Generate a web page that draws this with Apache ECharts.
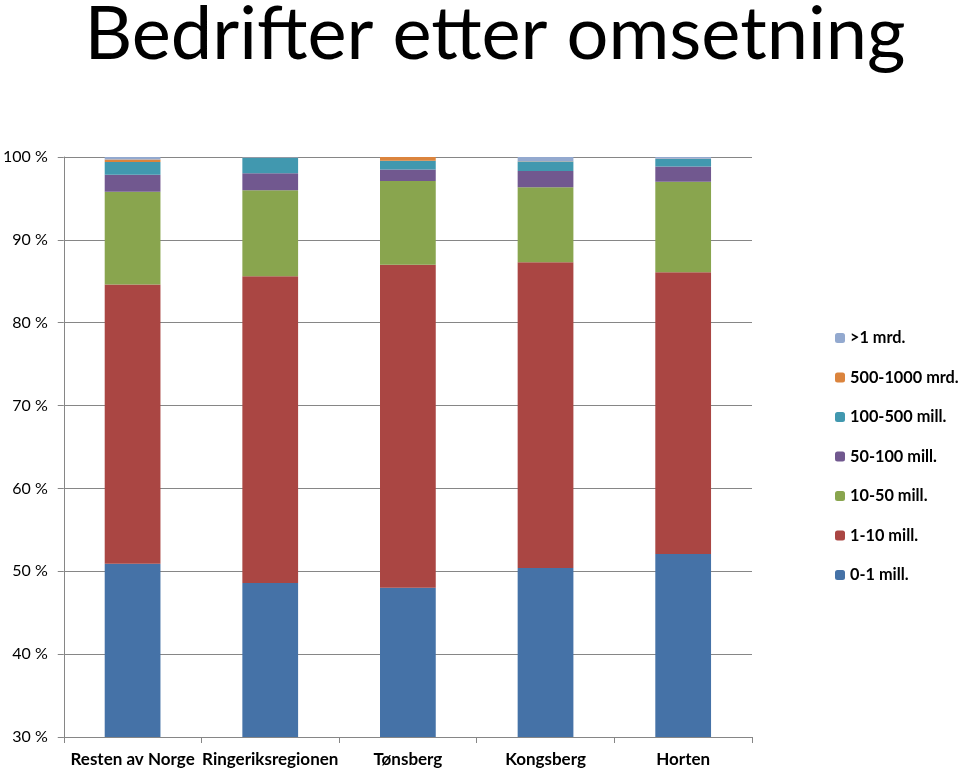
<!DOCTYPE html>
<html><head><meta charset="utf-8">
<script src="https://cdn.jsdelivr.net/npm/echarts@6/dist/echarts.min.js"></script>
<style>html,body{margin:0;padding:0;background:#fff}#c{width:960px;height:772px}</style>
</head><body><div id="c"></div>
<script>
const categories = ['Resten av Norge','Ringeriksregionen','Tønsberg','Kongsberg','Horten'];
const s0_1 = [50.9, 48.6, 48.0, 50.4, 52.1];
const s1_10 = [33.7, 37.0, 39.0, 36.9, 34.0];
const s10_50 = [11.2, 10.4, 10.1, 9.05, 10.9];
const s50_100 = [2.05, 2.05, 1.4, 1.95, 1.85];
const s100_500 = [1.55, 1.85, 1.05, 1.15, 0.9];
const s500_1000 = [0.3, 0.05, 0.45, 0.05, 0.05];
const s1mrd = [0.29, 0.05, 0.0, 0.5, 0.25];
const yTicks = ['30 %','40 %','50 %','60 %','70 %','80 %','90 %','100 %'];

const seriesDefs = [
  ['0-1 mill.', s0_1, '#4572A7'],
  ['1-10 mill.', s1_10, '#AA4643'],
  ['10-50 mill.', s10_50, '#89A54E'],
  ['50-100 mill.', s50_100, '#71588F'],
  ['100-500 mill.', s100_500, '#4198AF'],
  ['500-1000 mrd.', s500_1000, '#DB843D'],
  ['>1 mrd.', s1mrd, '#93A9CF']
];
const chart = echarts.init(document.getElementById('c'));
chart.setOption({
  animation:false,
  title:{text:'Bedrifter etter omsetning', left:490, textAlign:'center', top:-7,
    textStyle:{fontFamily:'Lato', fontWeight:'normal', fontSize:74, color:'#000'}},
  legend:{orient:'vertical', left:830, top:325, itemGap:23.5, itemWidth:10, itemHeight:10,
    data:seriesDefs.map(d=>d[0]).reverse(),
    textStyle:{fontFamily:'Lato', fontWeight:'bold', fontSize:16.3, color:'#000'}},
  grid:{left:63, right:208, top:157, bottom:35},
  xAxis:{type:'category', data:categories,
    axisLine:{lineStyle:{color:'#868686'}},
    axisTick:{show:true, length:6, lineStyle:{color:'#868686'}},
    axisLabel:{interval:0, fontFamily:'Lato', fontWeight:'bold', fontSize:17, color:'#000', margin:14}},
  yAxis:{type:'value', min:30, max:100, interval:10,
    axisLine:{show:true, lineStyle:{color:'#868686'}},
    axisTick:{show:true, length:6, lineStyle:{color:'#868686'}},
    splitLine:{lineStyle:{color:'#868686'}},
    axisLabel:{fontFamily:'Lato', fontSize:16, color:'#000', margin:16,
      formatter:(v)=>yTicks[Math.round((v-30)/10)]}},
  series:seriesDefs.map(d=>({name:d[0], type:'bar', stack:'a', data:d[1], barWidth:'40.5%',
    itemStyle:{color:d[2]}}))
});
</script></body></html>
